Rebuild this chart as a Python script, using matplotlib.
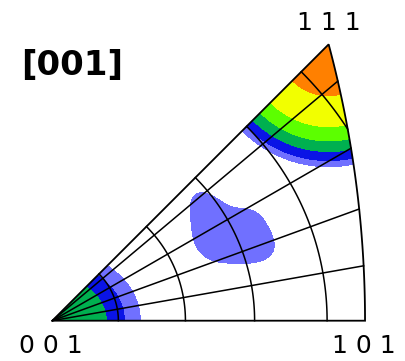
import numpy as np
import matplotlib.pyplot as plt
from matplotlib.path import Path
from matplotlib.patches import PathPatch

# density levels and fill colours of the inverse pole figure
levels = [1, 2, 3, 4, 5, 6, 50]
band_colors = ['#7070ff', '#0a14e6', '#00b050', '#5cff00', '#f2ff00', '#ff8000']

# strong component at 111: radius (stereographic units) where each level is reached
r111 = [0.0, 0.068, 0.109, 0.128, 0.142, 0.154, 0.162, 0.175]
f111 = [7.0, 6.0, 5.0, 4.0, 3.0, 2.0, 1.0, 0.0]

# component at 001, stretched along the 001-101 edge
r001 = [0.0, 0.0715, 0.0954, 0.1166, 0.13]
f001 = [3.5, 3.0, 2.0, 1.0, 0.0]
aspect001 = 0.8

# weak spread in the middle of the triangle (gaussian peaks)
mid_x = [0.2460, 0.2078, 0.2592, 0.2155]
mid_y = [0.1069, 0.1439, 0.1307, 0.1029]
mid_sx = [0.0401, 0.0221, 0.0172, 0.0172]
mid_sy = [0.0254, 0.0257, 0.0172, 0.0172]
mid_rho = [-0.275, -0.464, 0.0, 0.0]
mid_amp = [2.0, 1.5, 0.9, 1.0]

grid_azimuths = [10, 20, 30, 40]
grid_polar = [10, 20, 30, 40, 50]

# ---------------------------
# geometry of the standard triangle
# ---------------------------
x101 = np.sqrt(2) - 1
rho111 = np.tan(np.arccos(1 / np.sqrt(3)) / 2)
x111 = rho111 / np.sqrt(2)

arc_t = np.linspace(0, np.arctan2(x111, 1 + x111), 80)
edge_x = np.concatenate([[0, x101], -1 + np.sqrt(2) * np.cos(arc_t)[1:], [0]])
edge_y = np.concatenate([[0, 0], np.sqrt(2) * np.sin(arc_t)[1:], [0]])

# ---------------------------
# density field
# ---------------------------
gx, gy = np.meshgrid(np.linspace(-0.01, 0.43, 700), np.linspace(-0.01, 0.40, 650))

d111 = np.hypot(gx - x111, gy - x111)
dens = np.interp(d111, r111, f111)

d001 = np.hypot(gx, gy / aspect001)
dens = np.maximum(dens, np.interp(d001, r001, f001))

mid = np.zeros_like(gx)
for cx, cy, sx, sy, rho, a in zip(mid_x, mid_y, mid_sx, mid_sy, mid_rho, mid_amp):
    u = (gx - cx) / sx
    v = (gy - cy) / sy
    q = (u**2 - 2 * rho * u * v + v**2) / (1 - rho**2)
    mid += a * np.exp(-0.5 * q)
dens = np.maximum(dens, np.minimum(mid, 1.9))

# ---------------------------
# figure
# ---------------------------
fig = plt.figure(figsize=(4.05, 3.61), dpi=100)
ax = fig.add_axes([0, 0, 1, 1])
ax.set_xlim(-52.3 / 755, (405 - 52.3) / 755)
ax.set_ylim((320.7 - 361) / 755, 320.7 / 755)
ax.axis('off')

tri = PathPatch(Path(np.column_stack([edge_x, edge_y])), facecolor='none',
                edgecolor='black', lw=1.3, zorder=4)
ax.add_patch(tri)

cs = ax.contourf(gx, gy, dens, levels=levels, colors=band_colors, zorder=1)
cs.set_clip_path(tri)

# grid: azimuth lines and polar-angle arcs
for phi in np.radians(grid_azimuths):
    r_end = -np.cos(phi) + np.sqrt(np.cos(phi)**2 + 1)
    ax.plot([0, r_end * np.cos(phi)], [0, r_end * np.sin(phi)], color='black', lw=1.1, zorder=3)

for theta in np.radians(grid_polar):
    rho = np.tan(theta / 2)
    c = (1 - rho**2) / (2 * rho)
    phi0 = np.arccos(c) if c < 1 else 0.0
    phis = np.linspace(phi0, np.pi / 4, 120)
    ax.plot(rho * np.cos(phis), rho * np.sin(phis), color='black', lw=1.1, zorder=3)

fig.text(0.052, 0.792, '[001]', fontsize=24.5, fontweight='bold', family='DejaVu Sans',
         ha='left', va='baseline')
fig.text(0.811, 0.917, '1 1 1', fontsize=18, ha='center', va='baseline')
fig.text(0.1255, 0.0213, '0 0 1', fontsize=18, ha='center', va='baseline')
fig.text(0.899, 0.0213, '1 0 1', fontsize=18, ha='center', va='baseline')

fig.savefig('out.png', dpi=100, facecolor='white')
